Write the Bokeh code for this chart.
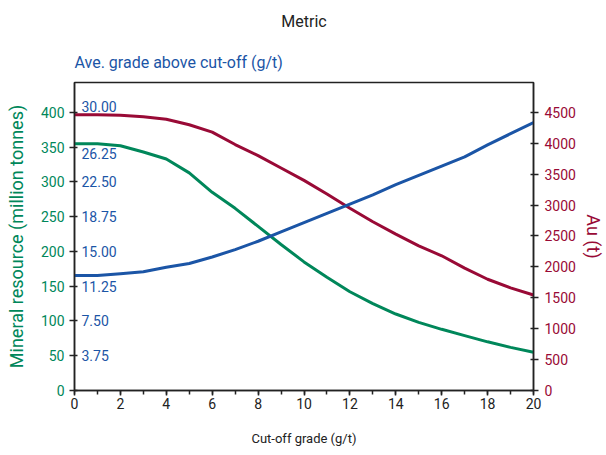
from bokeh.plotting import figure
from bokeh.models import Range1d, LinearAxis, FixedTicker, Title, ColumnDataSource
from bokeh.core.properties import value
from bokeh.embed import file_html
from bokeh.resources import INLINE

cutoff = list(range(0, 21))
tonnes = [355, 355, 352, 343, 333, 313, 285, 262, 236, 210, 185, 163, 142, 125, 110, 98, 88, 79, 70, 62, 55]
au_t = [4460, 4460, 4455, 4430, 4390, 4300, 4180, 3980, 3800, 3600, 3400, 3180, 2950, 2730, 2530, 2340, 2180, 1980, 1800, 1660, 1545]
grade = [12.4, 12.4, 12.6, 12.8, 13.3, 13.7, 14.4, 15.2, 16.1, 17.1, 18.1, 19.1, 20.1, 21.1, 22.2, 23.2, 24.2, 25.2, 26.5, 27.7, 28.9]

left_ticks = [0, 50, 100, 150, 200, 250, 300, 350, 400]
right_ticks = [0, 500, 1000, 1500, 2000, 2500, 3000, 3500, 4000, 4500]
grade_ticks = [3.75, 7.50, 11.25, 15.00, 18.75, 22.50, 26.25, 30.00]
grade_tick_labels = ["3.75", "7.50", "11.25", "15.00", "18.75", "22.50", "26.25", "30.00"]
grade_label_shift = [0, 0, 0, 0, 0, 0, 6, -6]
x_ticks = list(range(0, 21, 2))

GREEN = "#00875A"
RED = "#990A36"
BLUE = "#1B55A6"
INK = "#222222"
FONT = "Roboto"

ymax = 443
p = figure(width=606, height=455, output_backend="svg", toolbar_location=None,
           x_range=Range1d(0, 20), y_range=Range1d(0, ymax),
           min_border_left=74, min_border_right=73, min_border_top=0, min_border_bottom=65)
p.title = None
p.extra_y_ranges = {"au": Range1d(0, ymax * 11.25), "grade": Range1d(0, ymax * 0.075)}

p.xgrid.visible = False
p.ygrid.visible = False
p.outline_line_color = INK
p.outline_line_width = 1.5
p.background_fill_color = "white"
p.border_fill_color = "white"

# x axis
xa = p.xaxis[0]
xa.ticker = FixedTicker(ticks=x_ticks, minor_ticks=cutoff)
xa.axis_label = "Cut-off grade (g/t)"
xa.axis_label_text_font = FONT
xa.axis_label_text_font_style = "normal"
xa.axis_label_text_font_size = "13px"
xa.axis_label_text_color = INK
xa.axis_label_standoff = 19
xa.major_label_text_font = FONT
xa.major_label_text_font_size = "14px"
xa.major_label_text_color = INK
xa.major_label_standoff = 2
xa.axis_line_color = INK
xa.axis_line_width = 1.5
xa.major_tick_in = 0
xa.major_tick_out = 5
xa.minor_tick_in = 0
xa.minor_tick_out = 4
xa.major_tick_line_color = INK
xa.minor_tick_line_color = INK
xa.major_tick_line_width = 1.5
xa.minor_tick_line_width = 1.5

# left axis
ya = p.yaxis[0]
ya.ticker = FixedTicker(ticks=left_ticks, minor_ticks=[])
ya.axis_label = "Mineral resource (million tonnes)"
ya.axis_label_text_font = FONT
ya.axis_label_text_font_style = "normal"
ya.axis_label_text_font_size = "18px"
ya.axis_label_text_color = GREEN
ya.axis_label_standoff = 11
ya.major_label_text_font = FONT
ya.major_label_text_font_size = "14px"
ya.major_label_text_color = GREEN
ya.axis_line_color = INK
ya.axis_line_width = 1.5
ya.major_tick_in = 3
ya.major_tick_out = 5
ya.major_tick_line_color = INK
ya.major_tick_line_width = 1.5
ya.minor_tick_line_color = None

# right axis
ra = LinearAxis(y_range_name="au", ticker=FixedTicker(ticks=right_ticks, minor_ticks=[]))
ra.axis_label = "Au (t)"
ra.axis_label_text_font = FONT
ra.axis_label_text_font_style = "normal"
ra.axis_label_text_font_size = "18px"
ra.axis_label_text_color = RED
ra.axis_label_standoff = 4
ra.major_label_text_font = FONT
ra.major_label_text_font_size = "14px"
ra.major_label_text_color = RED
ra.major_label_standoff = 6
ra.axis_line_color = INK
ra.axis_line_width = 1.5
ra.major_tick_in = 3
ra.major_tick_out = 5
ra.major_tick_line_color = INK
ra.major_tick_line_width = 1.5
ra.minor_tick_line_color = None
p.add_layout(ra, "right")

# titles
t_sub = Title(text="Ave. grade above cut-off (g/t)", align="left", text_color=BLUE,
              text_font=FONT, text_font_size="16px", text_font_style="normal", offset=0, standoff=21)
t_main = Title(text="Metric", align="center", text_color=INK,
               text_font=FONT, text_font_size="16px", text_font_style="normal", standoff=19,
               text_line_height=0.7)
p.add_layout(t_sub, "above")
p.add_layout(t_main, "above")

# lines
p.line(cutoff, tonnes, line_color=GREEN, line_width=3)
p.line(cutoff, au_t, line_color=RED, line_width=3, y_range_name="au")
p.line(cutoff, grade, line_color=BLUE, line_width=3, y_range_name="grade")

# inner grade tick labels
src = ColumnDataSource(dict(x=[0] * len(grade_ticks), y=grade_ticks, t=grade_tick_labels,
                            dy=grade_label_shift))
p.text(x="x", y="y", text="t", source=src, y_range_name="grade", x_offset=7, y_offset="dy",
       text_font=value(FONT), text_font_size="14px", text_color=BLUE,
       text_baseline="middle", text_align="left")

open("out.html", "w").write(file_html(p, INLINE))
